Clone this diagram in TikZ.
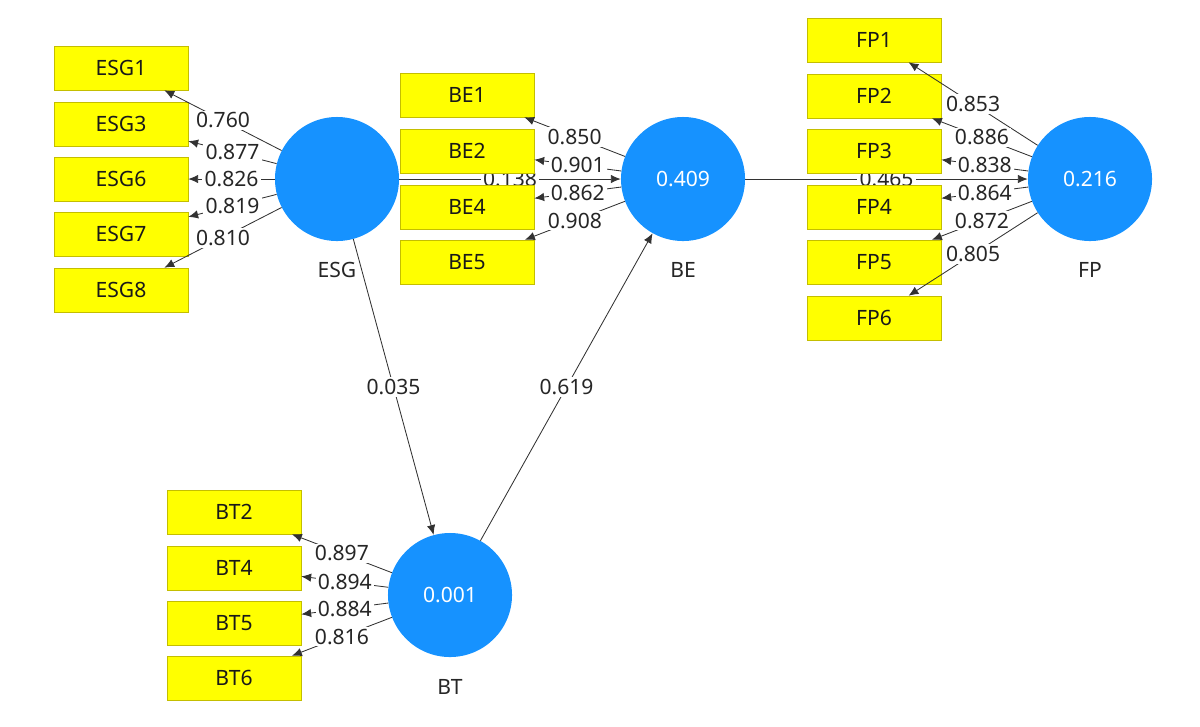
\documentclass[tikz,border=0pt]{standalone}
\usepackage{fontspec}
\setmainfont{Noto Sans}
\usepackage{tikz}
\usetikzlibrary{arrows.meta,backgrounds}
\definecolor{lvblue}{RGB}{22,146,255}
\definecolor{mvyellow}{RGB}{255,255,0}
\definecolor{mvborder}{RGB}{196,190,0}
\definecolor{pathgray}{RGB}{50,50,50}

\begin{document}
\begin{tikzpicture}[x=0.025cm,y=-0.025cm,every node/.style={font=\fontsize{15}{18}\selectfont}]
			\tikzstyle{latent}=[circle, fill=lvblue, minimum size=3.1cm, inner sep=0pt, text=white]
			\tikzstyle{indicator}=[rectangle, draw=mvborder, fill=mvyellow, minimum width=3.35cm, minimum height=1.1cm, inner sep=0pt, text=black!90]
			\tikzstyle{coef}=[fill=white, inner sep=1.5pt, text=black!85]
			\tikzstyle{link}=[draw=pathgray, line width=0.6pt, -{Latex[length=7pt,width=6pt]}]
			\tikzstyle{lvname}=[text=black!85]
			
			\useasboundingbox (0,0) rectangle (1200,726);
			
			% latent variables
			\node[latent] (esg) at (337,179) {};
			\node[latent] (be) at (683,179) {0.409};
			\node[latent] (fp) at (1090,179) {0.216};
			\node[latent] (bt) at (450,595) {0.001};
			\node[lvname] (esgname) at (337,270) {ESG};
			\node[lvname] (bename) at (683,270) {BE};
			\node[lvname] (fpname) at (1090,270) {FP};
			\node[lvname] (btname) at (450,687) {BT};
			
			% indicators
			\node[indicator] (esg1) at (121,68) {ESG1};
			\node[indicator] (esg3) at (121,124) {ESG3};
			\node[indicator] (esg6) at (121,179) {ESG6};
			\node[indicator] (esg7) at (121,234) {ESG7};
			\node[indicator] (esg8) at (121,290) {ESG8};
			
			\node[indicator] (be1) at (467,95) {BE1};
			\node[indicator] (be2) at (467,151) {BE2};
			\node[indicator] (be4) at (467,207) {BE4};
			\node[indicator] (be5) at (467,262) {BE5};
			
			\node[indicator] (fp1) at (874,40) {FP1};
			\node[indicator] (fp2) at (874,96) {FP2};
			\node[indicator] (fp3) at (874,151) {FP3};
			\node[indicator] (fp4) at (874,207) {FP4};
			\node[indicator] (fp5) at (874,262) {FP5};
			\node[indicator] (fp6) at (874,318) {FP6};
			
			\node[indicator] (bt2) at (234,512) {BT2};
			\node[indicator] (bt4) at (234,568) {BT4};
			\node[indicator] (bt5) at (234,623) {BT5};
			\node[indicator] (bt6) at (234,678) {BT6};
			
			% inner model (the two horizontal paths run behind the boxes)
			\begin{scope}[on background layer]
				\draw[link] (esg) -- node[coef]{0.138} (be);
				\draw[link] (be) -- node[coef]{0.465} (fp);
			\end{scope}
			\draw[link] (esg) -- node[coef]{0.035} (bt);
			\draw[link] (bt) -- node[coef]{0.619} (be);
			
			% outer loadings
			\draw[link] (esg) -- node[coef]{0.760} (esg1);
			\draw[link] (esg) -- node[coef]{0.877} (esg3);
			\draw[link] (esg) -- node[coef]{0.826} (esg6);
			\draw[link] (esg) -- node[coef]{0.819} (esg7);
			\draw[link] (esg) -- node[coef]{0.810} (esg8);
			
			\draw[link] (be) -- node[coef]{0.850} (be1);
			\draw[link] (be) -- node[coef]{0.901} (be2);
			\draw[link] (be) -- node[coef]{0.862} (be4);
			\draw[link] (be) -- node[coef]{0.908} (be5);
			
			\draw[link] (fp) -- node[coef]{0.853} (fp1);
			\draw[link] (fp) -- node[coef]{0.886} (fp2);
			\draw[link] (fp) -- node[coef]{0.838} (fp3);
			\draw[link] (fp) -- node[coef]{0.864} (fp4);
			\draw[link] (fp) -- node[coef]{0.872} (fp5);
			\draw[link] (fp) -- node[coef]{0.805} (fp6);
			
			\draw[link] (bt) -- node[coef]{0.897} (bt2);
			\draw[link] (bt) -- node[coef]{0.894} (bt4);
			\draw[link] (bt) -- node[coef]{0.884} (bt5);
			\draw[link] (bt) -- node[coef]{0.816} (bt6);
\end{tikzpicture}
\end{document}
